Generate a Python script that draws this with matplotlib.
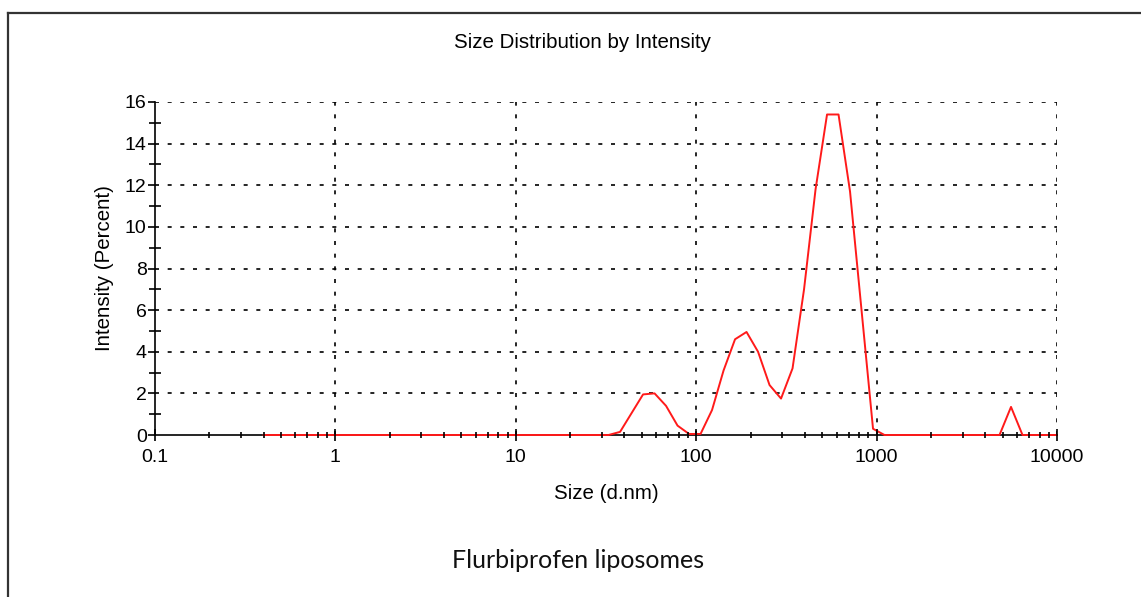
import matplotlib
matplotlib.use("Agg")
import matplotlib.pyplot as plt
from matplotlib.lines import Line2D
from matplotlib.ticker import LogLocator, FixedLocator, NullFormatter, FuncFormatter

# Size bins (d.nm)
sizes = [0.4, 0.4632, 0.5365, 0.6213, 0.7195, 0.8332, 0.9649, 1.117, 1.294, 1.499,
         1.736, 2.010, 2.328, 2.696, 3.122, 3.615, 4.187, 4.849, 5.615, 6.503,
         7.531, 8.721, 10.10, 11.70, 13.54, 15.69, 18.17, 21.04, 24.36, 28.21,
         32.67, 37.84, 43.82, 50.75, 58.77, 68.06, 78.82, 91.28, 105.7, 122.4,
         141.8, 164.2, 190.1, 220.2, 255.0, 295.3, 342.0, 396.1, 458.7, 531.2,
         615.1, 712.4, 825.0, 955.4, 1106, 1281, 1484, 1718, 1990, 2305,
         2669, 3091, 3580, 4145, 4801, 5560, 6439, 7456, 8635, 10000]

# Intensity (Percent)
intensity = [0, 0, 0, 0, 0, 0, 0, 0, 0, 0,
             0, 0, 0, 0, 0, 0, 0, 0, 0, 0,
             0, 0, 0, 0, 0, 0, 0, 0, 0, 0,
             0, 0.15, 1.05, 1.95, 2.0, 1.4, 0.45, 0.05, 0.05, 1.2,
             3.1, 4.6, 4.95, 4.0, 2.4, 1.75, 3.2, 7.0, 11.8, 15.4,
             15.4, 11.7, 6.0, 0.3, 0, 0, 0, 0, 0, 0,
             0, 0, 0, 0, 0, 1.35, 0, 0, 0, 0]

x_ticks = [0.1, 1, 10, 100, 1000, 10000]
x_tick_labels = ["0.1", "1", "10", "100", "1000", "10000"]
y_ticks = [0, 2, 4, 6, 8, 10, 12, 14, 16]

plt.rcParams['font.family'] = ['Liberation Sans', 'DejaVu Sans']

fig = plt.figure(figsize=(11.41, 5.97), dpi=100)
ax = fig.add_axes([155/1141, 1 - 435/597, (1057-155)/1141, (435-102)/597])

grid_style = dict(color='black', lw=1.2, linestyle=(0, (2.4, 5.2)), zorder=1.5)
# vertical grid lines at decades, horizontal at the y ticks above zero
for xv in x_ticks[1:]:
    ax.axvline(xv, **grid_style)
for yv in y_ticks[1:]:
    ax.axhline(yv, **grid_style)

ax.plot(sizes, intensity, color='#ff1a1a', lw=1.4, zorder=2.2, clip_on=False)

ax.set_xscale('log')
ax.set_xlim(0.1, 10000)
ax.set_ylim(0, 16)

ax.xaxis.set_major_locator(FixedLocator(x_ticks))
ax.xaxis.set_major_formatter(FuncFormatter(lambda v, p: x_tick_labels[x_ticks.index(v)] if v in x_ticks else ""))
ax.xaxis.set_minor_locator(LogLocator(base=10, subs=range(2, 10), numticks=100))
ax.xaxis.set_minor_formatter(NullFormatter())
ax.yaxis.set_major_locator(FixedLocator(y_ticks))
ax.yaxis.set_minor_locator(FixedLocator([1, 3, 5, 7, 9, 11, 13, 15]))

for s in ['top', 'right']:
    ax.spines[s].set_visible(False)
for s in ['left', 'bottom']:
    ax.spines[s].set_linewidth(1.2)
    ax.spines[s].set_color('black')
    ax.spines[s].set_zorder(1)

ax.tick_params(axis='x', which='major', direction='inout', length=8, width=1.2, pad=6,
               labelsize=14)
ax.tick_params(axis='x', which='minor', direction='inout', length=5, width=1.2)
ax.tick_params(axis='y', which='major', direction='out', length=5, width=1.2, pad=1,
               labelsize=14)
ax.tick_params(axis='y', which='minor', direction='inout', length=9, width=1.2)
ax.set_axisbelow(False)

ax.set_xlabel("Size (d.nm)", fontsize=14.8, labelpad=13)
ax.set_ylabel("Intensity (Percent)", fontsize=14.8, labelpad=8)
fig.text(582/1141, 1 - 42/597, "Size Distribution by Intensity", fontsize=14.8,
         ha='center', va='center')
fig.text(578/1141, 1 - 560/597, "Flurbiprofen liposomes", fontsize=18,
         ha='center', va='center', family=['Lato', 'DejaVu Sans'], color='#111111')

# outer frame (top and left edges)
fig.add_artist(Line2D([8/1141, 1], [1 - 13/597, 1 - 13/597], color='#333333', lw=1.6,
                      transform=fig.transFigure))
fig.add_artist(Line2D([8/1141, 8/1141], [1 - 13/597, 0], color='#333333', lw=1.6,
                      transform=fig.transFigure))

fig.savefig("out.png", dpi=100)
